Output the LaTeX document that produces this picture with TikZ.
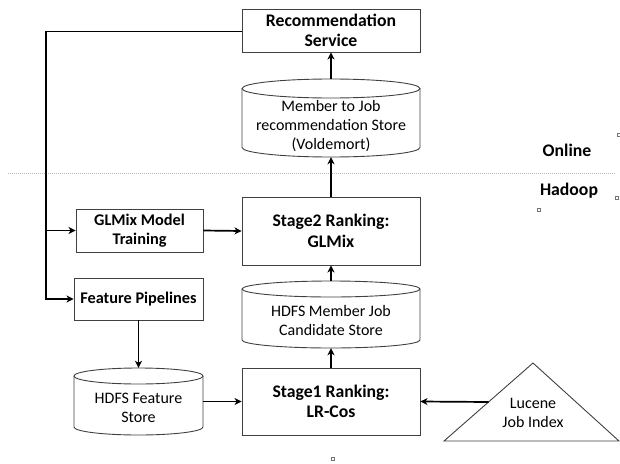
\documentclass[tikz,border=0pt]{standalone}
\usepackage{fontspec}
\setmainfont{Carlito}
\usetikzlibrary{arrows.meta,calc}
\newcommand{\dbcyl}[5]{%
  \pgfmathsetmacro\cylcx{(#1+#2)/2}\pgfmathsetmacro\cylrx{(#2-#1)/2}%
  \draw[boxline] (#1,#3) -- (#1,#4) arc[start angle=180,end angle=360,x radius=\cylrx,y radius=#5] -- (#2,#3);
  \draw[boxline] (\cylcx,#3) ellipse[x radius=\cylrx, y radius=#5];}
\tikzset{
  boxline/.style={draw=black!75, line width=0.9pt},
  box/.style={boxline, fill=white, inner sep=0pt, align=center, font=\fontsize{17.7}{20.5}\selectfont\bfseries},
  smallbox/.style={box, font=\fontsize{16.3}{19}\selectfont\bfseries},
  anchorbox/.style={draw=none, inner sep=0pt},
  plain/.style={align=center, inner sep=0pt, font=\fontsize{16}{19}\selectfont},
  conn/.style={draw=black, line width=1.7pt},
  arr/.style={conn, -{Stealth[length=7pt,width=7pt,inset=2pt]}},
  tag/.style={inner sep=0pt, font=\fontsize{17.7}{20}\selectfont\bfseries},
  handle/.style={draw=black!55, line width=0.6pt}
}
\begin{document}
\begin{tikzpicture}[x=1pt,y=1pt]
\useasboundingbox (0,0) rectangle (620,-463);
% dividing line
\draw[gray!55, line width=1pt, dash pattern=on 1pt off 1pt] (8,-173) -- (615,-173);
\node[tag] (online) at (567,-150) {Online};
\node[tag] (hadoop) at (569,-191) {Hadoop};
% boxes
\node[box, minimum width=178pt, minimum height=43pt] (rec) at (331,-30.5) {Recommendation\\Service};
\node[box, minimum width=178pt, minimum height=68pt] (stage2) at (331,-231) {Stage2 Ranking:\\GLMix};
\node[smallbox, minimum width=127pt, minimum height=43pt] (glmix) at (139.5,-230.5) {GLMix Model\\Training};
\node[smallbox, minimum width=129pt, minimum height=42pt] (fp) at (138.5,-299) {Feature Pipelines};
\node[box, minimum width=178pt, minimum height=67pt] (stage1) at (331,-401.5) {Stage1 Ranking:\\LR-Cos};
% cylinders
\dbcyl{242}{420}{-88.5}{-147.5}{9.5}
\node[anchorbox, minimum width=178pt, minimum height=78pt] (mstore) at (331,-118) {};
\node[plain] (mstoretext) at (331,-126) {Member to Job\\recommendation Store\\(Voldemort)};
\dbcyl{242}{420}{-289}{-340}{8}
\node[anchorbox, minimum width=178pt, minimum height=67pt] (cand) at (331,-314.5) {};
\node[plain] (candtext) at (331,-320.5) {HDFS Member Job\\Candidate Store};
\dbcyl{74}{203}{-376}{-427}{8}
\node[anchorbox, minimum width=129pt, minimum height=67pt] (fstore) at (138.5,-401.5) {};
\node[plain] (fstoretext) at (138.5,-408) {HDFS Feature\\Store};
% triangle
\draw[boxline] (444,-441) coordinate (triL) -- (533,-363) coordinate (triT) -- (619,-441) coordinate (triR) -- cycle;
\coordinate (lucL) at ($(triL)!0.5!(triT)$);
\node[plain] (lucene) at (533,-413) {Lucene\\Job Index};
% connectors
\draw[arr] (mstore.north) -- (rec.south);
\draw[arr] (stage2.north) -- (mstore.south);
\draw[arr] (cand.north) -- (stage2.south);
\draw[arr] (stage1.north) -- (cand.south);
\draw[arr] (fp.south) -- (fstore.north);
\draw[arr] (fstore.east) -- (stage1.west);
\draw[arr] (lucL) -- (stage1.east);
\draw[arr] (glmix.east) -- (stage2.west);
\coordinate (busTop) at (46,-31.5);
\coordinate (busMid) at (46,-230.5);
\coordinate (busBot) at (46,-299);
\draw[conn] (rec.west |- busTop) -- (44.5,-31.5);
\draw[arr] (busTop) -- (busBot) -- (fp.west);
\draw[arr] (busMid) -- (glmix.west);
% selection handles
\draw[handle] (617.5,-133.5) rectangle (620.5,-136.5);
\draw[handle] (615.5,-196) rectangle (618.5,-199);
\draw[handle] (537.5,-208) rectangle (540.5,-211);
\draw[handle] (331.5,-457.5) rectangle (334.5,-460.5);
\end{tikzpicture}
\end{document}
